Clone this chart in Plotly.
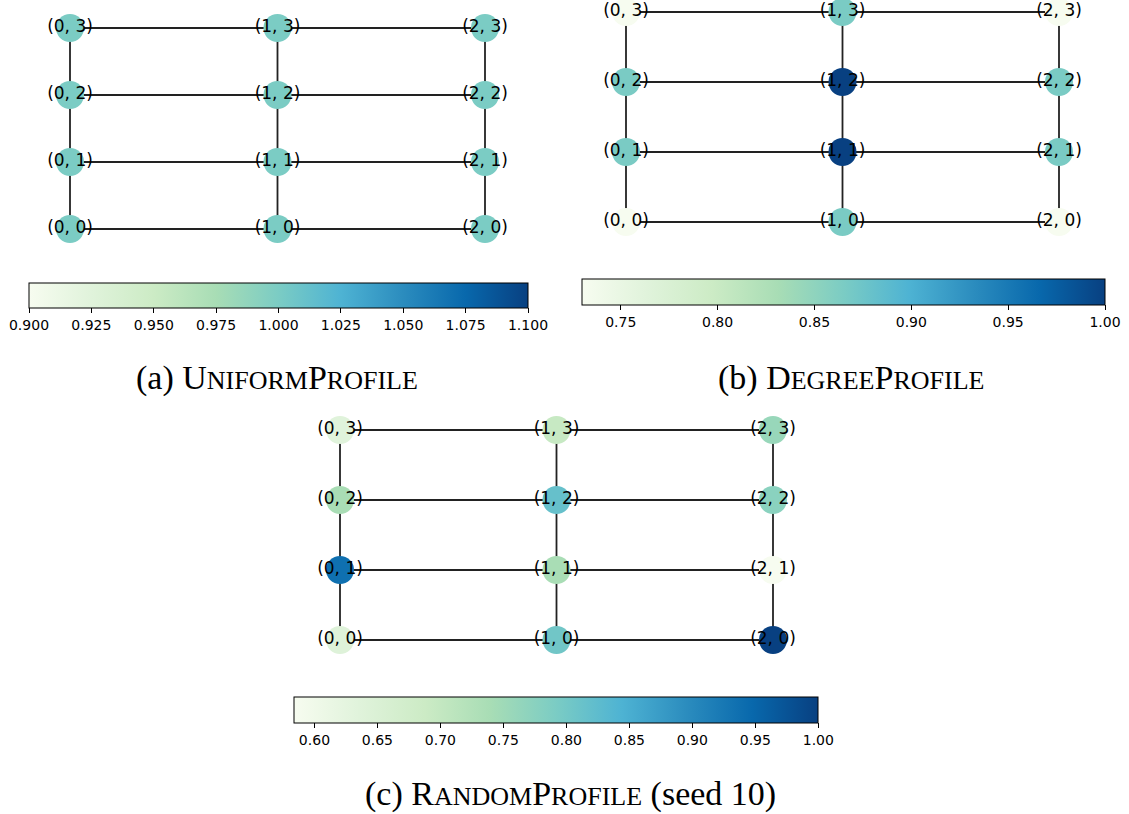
import plotly.graph_objects as go

W, H = 1129, 814

# ---------------- data ----------------
node_i = [0, 0, 0, 0, 1, 1, 1, 1, 2, 2, 2, 2]
node_j = [0, 1, 2, 3, 0, 1, 2, 3, 0, 1, 2, 3]
node_labels = ["(0, 0)", "(0, 1)", "(0, 2)", "(0, 3)",
               "(1, 0)", "(1, 1)", "(1, 2)", "(1, 3)",
               "(2, 0)", "(2, 1)", "(2, 2)", "(2, 3)"]
edges = [("(0, 0)", "(1, 0)"), ("(1, 0)", "(2, 0)"),
         ("(0, 1)", "(1, 1)"), ("(1, 1)", "(2, 1)"),
         ("(0, 2)", "(1, 2)"), ("(1, 2)", "(2, 2)"),
         ("(0, 3)", "(1, 3)"), ("(1, 3)", "(2, 3)"),
         ("(0, 0)", "(0, 1)"), ("(0, 1)", "(0, 2)"), ("(0, 2)", "(0, 3)"),
         ("(1, 0)", "(1, 1)"), ("(1, 1)", "(1, 2)"), ("(1, 2)", "(1, 3)"),
         ("(2, 0)", "(2, 1)"), ("(2, 1)", "(2, 2)"), ("(2, 2)", "(2, 3)")]

uniform_values = [1.0, 1.0, 1.0, 1.0, 1.0, 1.0, 1.0, 1.0, 1.0, 1.0, 1.0, 1.0]
degree_values = [0.73, 0.866, 0.866, 0.73,
                 0.866, 1.0, 1.0, 0.866,
                 0.73, 0.866, 0.866, 0.73]
random_values = [0.641, 0.937, 0.739, 0.635,
                 0.804, 0.739, 0.816, 0.695,
                 1.0, 0.584, 0.775, 0.758]

uniform_range = [0.9, 1.1]
degree_range = [0.73, 1.0]
random_range = [0.584, 1.0]

uniform_ticks = [0.900, 0.925, 0.950, 0.975, 1.000, 1.025, 1.050, 1.075, 1.100]
degree_ticks = [0.75, 0.80, 0.85, 0.90, 0.95, 1.00]
random_ticks = [0.60, 0.65, 0.70, 0.75, 0.80, 0.85, 0.90, 0.95, 1.00]

GnBu = ["#f7fcf0", "#e0f3db", "#ccebc5", "#a8ddb5", "#7bccc4",
        "#4eb3d3", "#2b8cbe", "#0868ac", "#084081"]
colorscale = [[k / 8, c] for k, c in enumerate(GnBu)]


def px(x):
    return x / W


def py(y):
    return 1 - y / H


SC = "font-size:26px"
PAD = 0.1  # axis padding in data units so edge lines are not clipped
# ---------------- layout (page pixels) ----------------
panels = [
    dict(values=uniform_values, rng=uniform_range, ticks=uniform_ticks, fmt=".3f",
         x0=70, x2=485, ytop=28, ybot=229,
         cb=(29, 528, 283.3, 308.3),
         cap=f"(a) U<span style='{SC}'>NIFORM</span>P<span style='{SC}'>ROFILE</span>",
         capx=277, capy=378),
    dict(values=degree_values, rng=degree_range, ticks=degree_ticks, fmt=".2f",
         x0=626, x2=1059, ytop=12, ybot=222,
         cb=(582, 1105, 279.3, 305.3),
         cap=f"(b) D<span style='{SC}'>EGREE</span>P<span style='{SC}'>ROFILE</span>",
         capx=851, capy=378),
    dict(values=random_values, rng=random_range, ticks=random_ticks, fmt=".2f",
         x0=340, x2=773, ytop=430, ybot=640,
         cb=(294.3, 818, 697.3, 723.3),
         cap=f"(c) R<span style='{SC}'>ANDOM</span>P<span style='{SC}'>ROFILE</span> (seed 10)",
         capx=570, capy=794),
]

pos = {lab: (i, j) for lab, i, j in zip(node_labels, node_i, node_j)}

fig = go.Figure()
layout = dict(width=W, height=H, margin=dict(l=0, r=0, t=0, b=0),
              paper_bgcolor="white", plot_bgcolor="rgba(0,0,0,0)", showlegend=False,
              font=dict(family="DejaVu Sans", color="black"), annotations=[])

for k, p in enumerate(panels):
    xa = "x" if k == 0 else f"x{k+1}"
    ya = "y" if k == 0 else f"y{k+1}"
    xkey = "xaxis" if k == 0 else f"xaxis{k+1}"
    ykey = "yaxis" if k == 0 else f"yaxis{k+1}"
    ux = (p["x2"] - p["x0"]) / 2.0
    uy = (p["ybot"] - p["ytop"]) / 3.0
    layout[xkey] = dict(domain=[px(p["x0"] - PAD * ux), px(p["x2"] + PAD * ux)],
                        range=[-PAD, 2 + PAD], visible=False, anchor=ya, fixedrange=True)
    layout[ykey] = dict(domain=[py(p["ybot"] + PAD * uy), py(p["ytop"] - PAD * uy)],
                        range=[-PAD, 3 + PAD], visible=False, anchor=xa, fixedrange=True)
    ex, ey = [], []
    for a, b in edges:
        ex += [pos[a][0], pos[b][0], None]
        ey += [pos[a][1], pos[b][1], None]
    fig.add_trace(go.Scatter(x=ex, y=ey, mode="lines", xaxis=xa, yaxis=ya,
                             line=dict(color="#222222", width=1.8),
                             hoverinfo="skip", cliponaxis=False))
    cbx0, cbx1, cby0, cby1 = p["cb"]
    fig.add_trace(go.Scatter(
        x=node_i, y=node_j, mode="markers+text", text=node_labels,
        textposition="middle center", textfont=dict(family="DejaVu Sans", size=17, color="black"),
        xaxis=xa, yaxis=ya, cliponaxis=False, hoverinfo="skip",
        marker=dict(size=28, color=p["values"], colorscale=colorscale,
                    cmin=p["rng"][0], cmax=p["rng"][1], showscale=True,
                    line=dict(width=0),
                    colorbar=dict(orientation="h", x=px(cbx0), xanchor="left",
                                  y=py(cby0), yanchor="top",
                                  len=cbx1 - cbx0, lenmode="pixels",
                                  thickness=cby1 - cby0, thicknessmode="pixels",
                                  xpad=0, ypad=0, outlinewidth=1, outlinecolor="black",
                                  tickvals=p["ticks"], tickformat=p["fmt"],
                                  ticks="outside", ticklen=5, tickwidth=1, tickcolor="black",
                                  tickfont=dict(family="DejaVu Sans", size=14, color="black"))),
    ))
    layout["annotations"].append(dict(
        text=p["cap"], x=px(p["capx"]), y=py(p["capy"]), xref="paper", yref="paper",
        xanchor="center", yanchor="middle", showarrow=False,
        font=dict(family="Liberation Serif", size=34, color="black")))

fig.update_layout(**layout)
fig.write_html("out.html", config={"displayModeBar": False},
               post_script="document.body.style.margin='0px';document.body.style.overflow='hidden';")
